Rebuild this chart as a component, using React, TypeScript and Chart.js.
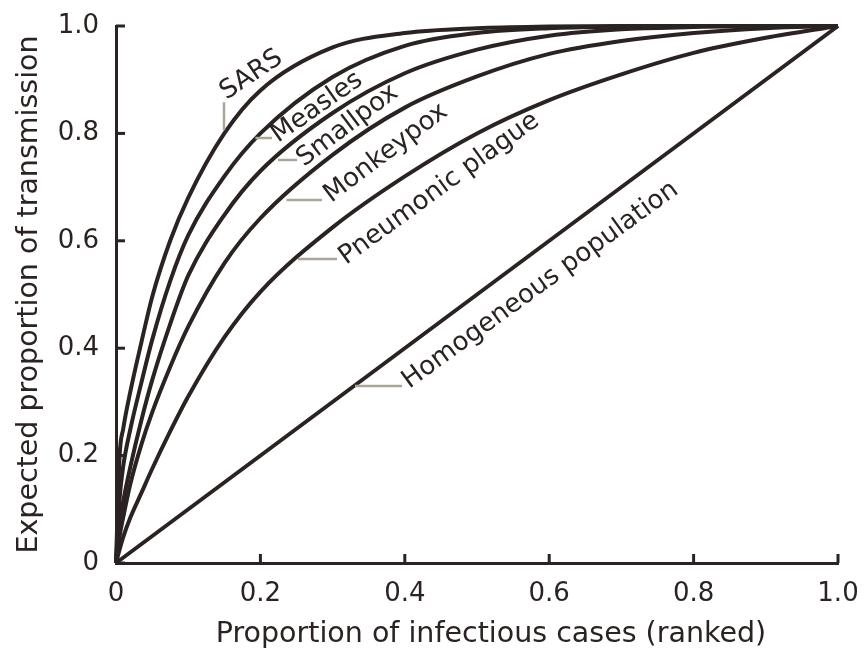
import { useEffect, useRef } from "react";
import { Chart, registerables } from "chart.js";

Chart.register(...registerables);

// Share of cases (ranked from most to least infectious)
const caseShare = [0, 0.005, 0.01, 0.02, 0.035, 0.05, 0.075, 0.1, 0.15, 0.2, 0.3, 0.4, 0.5, 0.6, 0.7, 0.8, 0.9, 1.0];

// Expected share of transmission caused by that fraction of cases
const sars = [0, 0.2, 0.25, 0.32, 0.41, 0.495, 0.6, 0.68, 0.8, 0.88, 0.96, 0.987, 0.996, 0.999, 1, 1, 1, 1];
const measles = [0, 0.12, 0.18, 0.25, 0.335, 0.415, 0.525, 0.61, 0.72, 0.8, 0.905, 0.963, 0.987, 0.996, 0.999, 1, 1, 1];
const smallpox = [0, 0.075, 0.115, 0.18, 0.265, 0.34, 0.445, 0.535, 0.648, 0.73, 0.838, 0.912, 0.956, 0.982, 0.994, 0.998, 1, 1];
const monkeypox = [0, 0.05, 0.085, 0.148, 0.22, 0.28, 0.365, 0.44, 0.558, 0.642, 0.76, 0.848, 0.906, 0.948, 0.972, 0.987, 0.996, 1];
const plague = [0, 0.025, 0.048, 0.085, 0.13, 0.175, 0.245, 0.31, 0.42, 0.505, 0.625, 0.72, 0.8, 0.862, 0.91, 0.95, 0.978, 1];

// Homogeneous population: every case contributes equally
const homogeneousShare = [0, 1];
const homogeneous = [0, 1];

const seriesNames = ["SARS", "Measles", "Smallpox", "Monkeypox", "Pneumonic plague", "Homogeneous population"];

const tickValues = [0, 0.2, 0.4, 0.6, 0.8, 1.0];
const tickText = ["0", "0.2", "0.4", "0.6", "0.8", "1.0"];

const xTitle = "Proportion of infectious cases (ranked)";
const yTitle = "Expected proportion of transmission";

const INK = "#2a2321";
const LEADER = "#aaa796";
const FONT = '"DejaVu Sans", sans-serif';

// Where each curve name sits (data units): leader segment, text start and slant
const labelPlacement = [
  { leader: [0.1496, 0.858, 0.1496, 0.806], at: [0.153, 0.862], angle: 34 },
  { leader: [0.193, 0.7914, 0.2161, 0.7914], at: [0.2245, 0.7821], angle: 35 },
  { leader: [0.2244, 0.7505, 0.2507, 0.7505], at: [0.2605, 0.7374], angle: 37 },
  { leader: [0.236, 0.676, 0.2853, 0.676], at: [0.298, 0.6704], angle: 37 },
  { leader: [0.252, 0.5661, 0.3061, 0.5661], at: [0.3185, 0.555], angle: 36 },
  { leader: [0.331, 0.3296, 0.3961, 0.3296], at: [0.406, 0.324], angle: 36 },
];

const toPoints = (xs: number[], ys: number[]) => xs.map((x, i) => ({ x, y: ys[i] }));

const curveLabels = {
  id: "curveLabels",
  afterDatasetsDraw(chart: any) {
    const { ctx, scales, chartArea } = chart;
    const xs = scales.x;
    const ys = scales.y;
    ctx.save();

    // inward tick marks
    ctx.strokeStyle = INK;
    ctx.lineWidth = 3;
    ctx.lineCap = "butt";
    for (const v of tickValues) {
      const px = xs.getPixelForValue(v);
      ctx.beginPath();
      ctx.moveTo(px, chartArea.bottom);
      ctx.lineTo(px, chartArea.bottom - 9);
      ctx.stroke();
      const py = ys.getPixelForValue(v);
      ctx.beginPath();
      ctx.moveTo(chartArea.left, py);
      ctx.lineTo(chartArea.left + 9, py);
      ctx.stroke();
    }

    // leader lines
    ctx.strokeStyle = LEADER;
    ctx.lineWidth = 2.5;
    for (const p of labelPlacement) {
      const [x1, y1, x2, y2] = p.leader;
      ctx.beginPath();
      ctx.moveTo(xs.getPixelForValue(x1), ys.getPixelForValue(y1));
      ctx.lineTo(xs.getPixelForValue(x2), ys.getPixelForValue(y2));
      ctx.stroke();
    }

    // curve names
    ctx.fillStyle = INK;
    ctx.font = `26px ${FONT}`;
    ctx.textAlign = "left";
    ctx.textBaseline = "alphabetic";
    labelPlacement.forEach((p, i) => {
      ctx.save();
      ctx.translate(xs.getPixelForValue(p.at[0]), ys.getPixelForValue(p.at[1]));
      ctx.rotate((-p.angle * Math.PI) / 180);
      ctx.fillText(seriesNames[i], 0, 0);
      ctx.restore();
    });

    // x-axis title
    ctx.font = `28.5px ${FONT}`;
    ctx.textAlign = "center";
    ctx.fillText(xTitle, (chartArea.left + chartArea.right) / 2 + 14, chartArea.bottom + 79);

    ctx.restore();
  },
};

export default function App() {
  const canvasRef = useRef<HTMLCanvasElement | null>(null);

  useEffect(() => {
    if (!canvasRef.current) return;
    const curveStyle = {
      borderColor: INK,
      borderWidth: 4,
      pointRadius: 0,
      showLine: true,
      cubicInterpolationMode: "monotone" as const,
      clip: false as const,
      fill: false,
    };
    const chart = new Chart(canvasRef.current, {
      type: "scatter",
      data: {
        datasets: [
          { label: seriesNames[0], data: toPoints(caseShare, sars), ...curveStyle },
          { label: seriesNames[1], data: toPoints(caseShare, measles), ...curveStyle },
          { label: seriesNames[2], data: toPoints(caseShare, smallpox), ...curveStyle },
          { label: seriesNames[3], data: toPoints(caseShare, monkeypox), ...curveStyle },
          { label: seriesNames[4], data: toPoints(caseShare, plague), ...curveStyle },
          { label: seriesNames[5], data: toPoints(homogeneousShare, homogeneous), ...curveStyle },
        ],
      },
      options: {
        animation: false,
        responsive: false,
        devicePixelRatio: 1,
        layout: { padding: { left: 0, right: 29, top: 26, bottom: 0 } },
        plugins: { legend: { display: false }, tooltip: { enabled: false } },
        scales: {
          x: {
            type: "linear",
            min: 0,
            max: 1,
            afterFit: (s: any) => {
              s.height = 90;
            },
            afterBuildTicks: (s: any) => {
              s.ticks = tickValues.map((value) => ({ value }));
            },
            // grid lines hidden; tickLength only spaces the labels
            grid: { display: false, drawTicks: true, tickLength: 16 },
            border: { display: true, color: INK, width: 3 },
            ticks: {
              padding: 0,
              color: INK,
              font: { family: FONT, size: 26 },
              maxRotation: 0,
              callback: (v: any) => tickText[tickValues.indexOf(Number(v))] ?? "",
            },
          },
          y: {
            type: "linear",
            min: 0,
            max: 1,
            afterFit: (s: any) => {
              s.width = 116;
            },
            afterBuildTicks: (s: any) => {
              s.ticks = tickValues.map((value) => ({ value }));
            },
            grid: { display: false, drawTicks: true, tickLength: 17 },
            border: { display: true, color: INK, width: 3 },
            ticks: {
              padding: 0,
              color: INK,
              font: { family: FONT, size: 26 },
              callback: (v: any) => tickText[tickValues.indexOf(Number(v))] ?? "",
            },
            title: {
              display: true,
              text: yTitle,
              color: INK,
              font: { family: FONT, size: 28.5 },
              padding: { top: 12, bottom: 0 },
            },
          },
        },
      },
      plugins: [curveLabels],
    });
    return () => chart.destroy();
  }, []);

  return (
    <div style={{ position: "fixed", left: 0, top: 0, width: 867, height: 653, background: "#fff" }}>
      <canvas ref={canvasRef} width={867} height={653} style={{ display: "block" }} />
    </div>
  );
}
